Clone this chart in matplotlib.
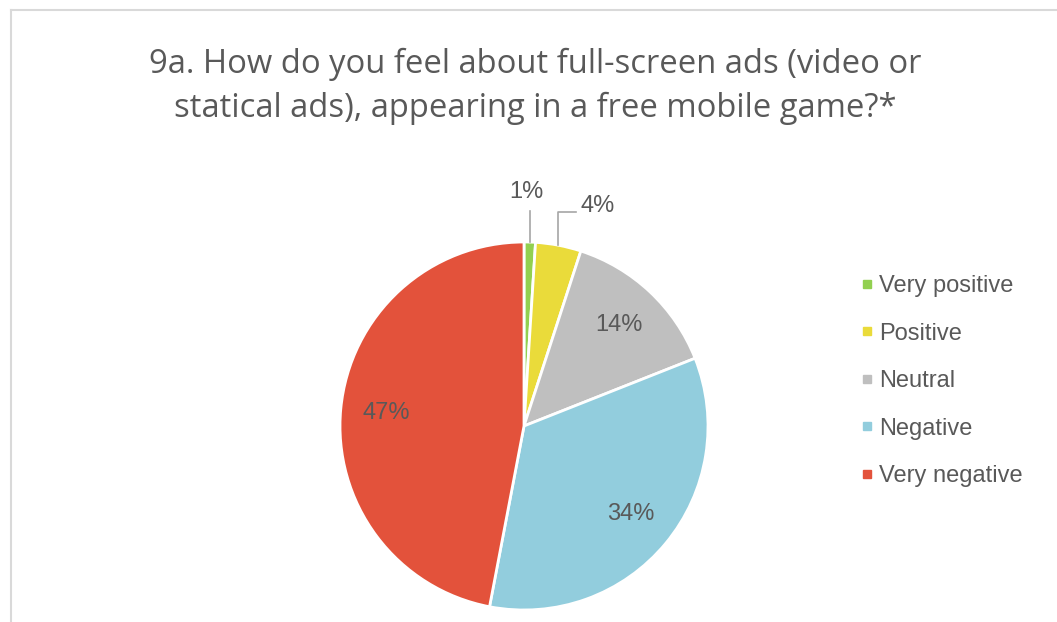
import numpy as np
import matplotlib
matplotlib.use("Agg")
import matplotlib.pyplot as plt

# survey answers, clockwise from 12 o'clock
labels = ["Very positive", "Positive", "Neutral", "Negative", "Very negative"]
shares = [1, 4, 14, 34, 47]
colors = ["#92D050", "#EADB3A", "#BFBFBF", "#92CDDD", "#E3523B"]

title = "9a. How do you feel about full-screen ads (video or\nstatical ads), appearing in a free mobile game?*"
txt = "#595959"

W, H = 1057, 622
fig = plt.figure(figsize=(W / 100, H / 100), dpi=100)

# thin frame, only left and top edges are inside the canvas
fig.add_artist(plt.Line2D([11 / W, 11 / W], [0, 1 - 10 / H], color="#D9D9D9", lw=1.5))
fig.add_artist(plt.Line2D([11 / W, 1], [1 - 10 / H, 1 - 10 / H], color="#D9D9D9", lw=1.5))

fig.text(535 / W, 1 - 86 / H, title, ha="center", va="center", fontsize=23.6,
         color=txt, family="Open Sans", linespacing=1.42)

ax = fig.add_axes([340 / W, 12 / H, 368 / W, 368 / H])
wedges, _ = ax.pie(shares, colors=colors, startangle=90, counterclock=False,
                   radius=1, wedgeprops=dict(edgecolor="white", linewidth=2))
ax.set_xlim(-1, 1)
ax.set_ylim(-1, 1)
ax.set_aspect("equal")
ax.axis("off")

lbl = dict(fontsize=17, color=txt, family="Liberation Sans", ha="center", va="center")

cum = np.cumsum(shares) - np.array(shares) / 2
theta = np.radians(cum / sum(shares) * 360)  # clockwise from top
for s, t in zip(shares, theta):
    x, y = np.sin(t), np.cos(t)
    if s >= 10:
        ax.text(0.75 * x, 0.75 * y, f"{s}%", **lbl)

# small slices: labels outside with leader lines
x0, y0 = np.sin(theta[0]), np.cos(theta[0])
ax.plot([x0, x0], [y0, 1.17], color="#A6A6A6", lw=1.2, clip_on=False)
ax.text(x0 - 0.02, 1.27, f"{shares[0]}%", **lbl)
x1, y1 = np.sin(theta[1]), np.cos(theta[1])
ax.plot([x1, x1, 0.28], [y1, 1.163, 1.163], color="#A6A6A6", lw=1.2, clip_on=False)
ax.text(0.40, 1.196, f"{shares[1]}%", **lbl)

# legend with small square markers
handles = [plt.Line2D([], [], marker="s", ls="", ms=6, color=c) for c in colors]
fig.legend(handles, labels, loc="center left", bbox_to_anchor=(861 / W, 1 - 381 / H),
           frameon=False, handletextpad=0.26, labelspacing=1.08,
           prop={"family": "Liberation Sans", "size": 17}, labelcolor=txt,
           handlelength=0.5, borderpad=0, borderaxespad=0)

fig.savefig("out.png", dpi=100)
